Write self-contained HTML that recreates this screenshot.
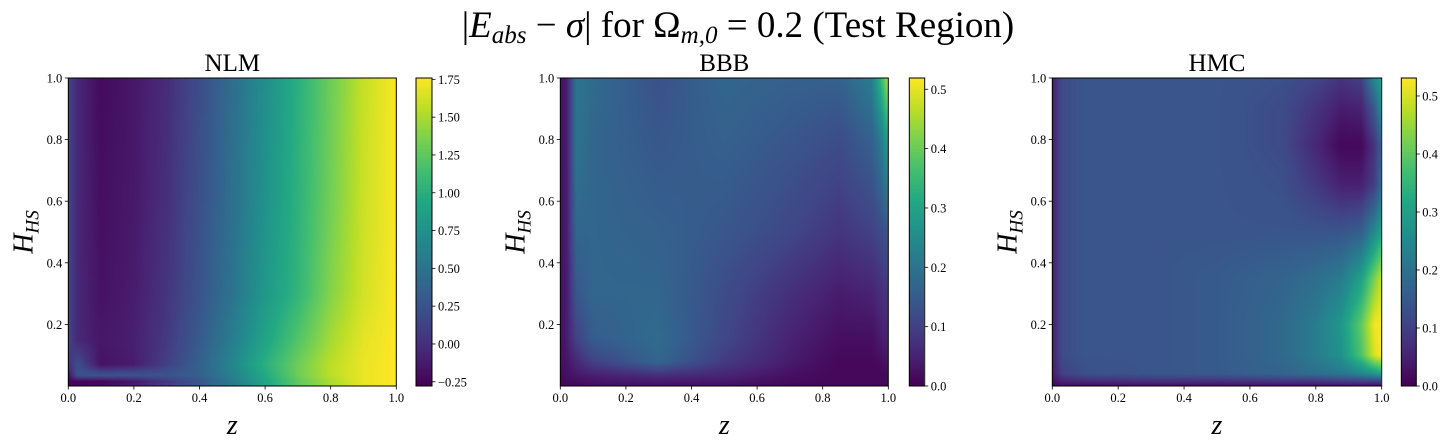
<!DOCTYPE html>
<html><head><meta charset="utf-8">
<style>
html,body{margin:0;padding:0;background:#fff;}
#wrap{position:relative;width:1453px;height:448px;overflow:hidden;font-family:"Liberation Serif",serif;}
canvas{position:absolute;}
svg{position:absolute;left:0;top:0;}
</style></head>
<body>
<div id="wrap">
<svg id="svg" width="1453" height="448"></svg>
</div>
<script>
// ---------- data ----------
const nlmZ = [0,0.03,0.1,0.2,0.3,0.4,0.5,0.6,0.7,0.8,0.9,1.0];
const nlmH = [1.0,0.6,0.3,0.15,0.07,0.035,0.015,0];
const nlmVals = [
 [0.15,-0.05,-0.22,-0.15,-0.02,0.2,0.45,0.72,1.0,1.3,1.58,1.75],
 [0.15,-0.05,-0.2,-0.14,0.0,0.22,0.47,0.75,1.02,1.32,1.6,1.75],
 [0.15,-0.05,-0.18,-0.12,0.03,0.25,0.5,0.8,1.05,1.38,1.62,1.76],
 [0.15,-0.05,-0.15,-0.1,0.06,0.3,0.58,0.9,1.2,1.48,1.68,1.76],
 [0.0,0.2,-0.18,-0.12,0.1,0.35,0.65,1.0,1.3,1.55,1.7,1.76],
 [-0.2,0.25,0.25,0.25,0.25,0.35,0.6,0.95,1.3,1.55,1.7,1.76],
 [-0.25,-0.25,-0.25,-0.15,0.05,0.25,0.55,0.9,1.25,1.5,1.7,1.76],
 [-0.25,-0.25,-0.2,-0.1,0.1,0.3,0.55,0.9,1.25,1.5,1.7,1.76]
];
const nlmTicks = ["−0.25","0.00","0.25","0.50","0.75","1.00","1.25","1.50","1.75"];
const nlmTickVals = [-0.25,0,0.25,0.5,0.75,1.0,1.25,1.5,1.75];

const bbbZ = [0,0.02,0.05,0.1,0.3,0.5,0.7,0.85,0.95,0.98,1.0];
const bbbH = [1.0,0.8,0.5,0.3,0.15,0.08,0.03,0];
const bbbVals = [
 [0.02,0.04,0.2,0.18,0.13,0.17,0.16,0.16,0.22,0.35,0.46],
 [0.02,0.04,0.2,0.17,0.14,0.16,0.14,0.12,0.16,0.22,0.3],
 [0.02,0.04,0.17,0.17,0.16,0.14,0.11,0.08,0.1,0.12,0.14],
 [0.02,0.04,0.14,0.17,0.17,0.12,0.07,0.04,0.05,0.07,0.08],
 [0.02,0.04,0.1,0.15,0.18,0.11,0.05,0.02,0.02,0.04,0.05],
 [0.02,0.03,0.06,0.1,0.17,0.09,0.04,0.01,0.01,0.02,0.03],
 [0.01,0.02,0.03,0.04,0.06,0.05,0.02,0.01,0.01,0.01,0.01],
 [0.01,0.01,0.01,0.02,0.02,0.02,0.01,0.01,0.01,0.01,0.01]
];
const bbbTicks = ["0.0","0.1","0.2","0.3","0.4","0.5"];
const bbbTickVals = [0,0.1,0.2,0.3,0.4,0.5];

const hmcZ = [0,0.03,0.1,0.3,0.5,0.7,0.8,0.88,0.94,0.98,1.0];
const hmcH = [1.0,0.9,0.78,0.65,0.5,0.35,0.2,0.1,0.04,0.015,0];
const hmcVals = [
 [0.04,0.12,0.14,0.14,0.14,0.13,0.11,0.08,0.1,0.25,0.3],
 [0.04,0.12,0.14,0.14,0.14,0.12,0.08,0.04,0.05,0.15,0.25],
 [0.04,0.12,0.14,0.14,0.14,0.12,0.06,0.01,0.01,0.08,0.15],
 [0.04,0.12,0.14,0.14,0.14,0.13,0.09,0.05,0.05,0.1,0.18],
 [0.04,0.12,0.14,0.14,0.14,0.14,0.14,0.14,0.16,0.25,0.3],
 [0.04,0.12,0.14,0.14,0.15,0.17,0.19,0.22,0.3,0.42,0.48],
 [0.04,0.12,0.14,0.14,0.15,0.18,0.22,0.28,0.4,0.52,0.53],
 [0.04,0.12,0.14,0.14,0.15,0.18,0.22,0.27,0.38,0.5,0.53],
 [0.03,0.1,0.13,0.14,0.15,0.17,0.19,0.21,0.24,0.28,0.3],
 [0.02,0.05,0.06,0.07,0.07,0.08,0.08,0.09,0.1,0.1,0.1],
 [0.01,0.02,0.02,0.02,0.02,0.02,0.02,0.02,0.02,0.02,0.02]
];
const hmcTicks = ["0.0","0.1","0.2","0.3","0.4","0.5"];
const hmcTickVals = [0,0.1,0.2,0.3,0.4,0.5];

const axisTicks = ["0.0","0.2","0.4","0.6","0.8","1.0"];
const axisTickVals = [0,0.2,0.4,0.6,0.8,1.0];
const yTicks = ["0.2","0.4","0.6","0.8","1.0"];
const yTickVals = [0.2,0.4,0.6,0.8,1.0];

// ---------- rendering ----------
const VIR = ["440154","482475","414487","355f8d","2a788e","21918c","22a884","44bf70","7ad151","bddf26","fde725"]
  .map(h=>[parseInt(h.slice(0,2),16),parseInt(h.slice(2,4),16),parseInt(h.slice(4,6),16)]);
function viridis(t){
  t=Math.max(0,Math.min(1,t))*10; const i=Math.min(9,Math.floor(t)), f=t-i;
  return VIR[i].map((c,k)=>c+(VIR[i+1][k]-c)*f);
}
function seg(arr,v,desc){
  for(let i=0;i<arr.length-1;i++){
    const a=arr[i],b=arr[i+1];
    if(desc? (v<=a&&v>=b):(v>=a&&v<=b)) return [i,(b===a)?0:(v-a)/(b-a)];
  }
  return [arr.length-2,1];
}
function sample(zs,hs,vals,z,h){
  const [i,fx]=seg(zs,z,false), [j,fy]=seg(hs,h,true);
  const a=vals[j][i],b=vals[j][i+1],c=vals[j+1][i],d=vals[j+1][i+1];
  return (a*(1-fx)+b*fx)*(1-fy)+(c*(1-fx)+d*fx)*fy;
}
const NS="http://www.w3.org/2000/svg";
const svg=document.getElementById('svg');
const wrap=document.getElementById('wrap');
function el(tag,attrs,parent){const e=document.createElementNS(NS,tag);for(const k in attrs)e.setAttribute(k,attrs[k]);(parent||svg).appendChild(e);return e;}

function panel(cfg){
  const {name,x0,x1,y0,y1,cb0,cb1,vmin,vmax,zs,hs,vals,cbTicks,cbTickVals}=cfg;
  const W=Math.round(x1-x0),H=Math.round(y1-y0);
  const xs=v=>x0+v*(x1-x0), ys=v=>y1-v*(y1-y0);
  const cv=document.createElement('canvas');
  cv.width=W;cv.height=H;cv.style.left=x0+'px';cv.style.top=y0+'px';
  
  
  wrap.insertBefore(cv,svg);
  const ctx=cv.getContext('2d');const img=ctx.createImageData(W,H);
  for(let py=0;py<H;py++){const h=1-(py+0.5)/H;
    for(let px=0;px<W;px++){const z=(px+0.5)/W;
      const v=sample(zs,hs,vals,z,h);const c=viridis((v-vmin)/(vmax-vmin));
      const o=(py*W+px)*4;img.data[o]=c[0];img.data[o+1]=c[1];img.data[o+2]=c[2];img.data[o+3]=255;}}
  ctx.putImageData(img,0,0);
  const CW=Math.round(cb1-cb0);
  const cc=document.createElement('canvas');
  cc.width=CW;cc.height=H;cc.style.left=cb0+'px';cc.style.top=y0+'px';
  
  
  wrap.insertBefore(cc,svg);
  const c2=cc.getContext('2d');
  for(let py=0;py<H;py++){const c=viridis(1-(py+0.5)/H);c2.fillStyle=`rgb(${c[0]|0},${c[1]|0},${c[2]|0})`;c2.fillRect(0,py,CW,1);}
  const g=el('g',{});
  
  
  el('rect',{x:x0,y:y0,width:x1-x0,height:y1-y0,fill:'none',stroke:'#000','stroke-width':1},g);
  el('rect',{x:cb0,y:y0,width:cb1-cb0,height:y1-y0,fill:'none',stroke:'#000','stroke-width':1},g);
  axisTickVals.forEach((v,i)=>{const x=xs(v);
    el('line',{x1:x,x2:x,y1:y1,y2:y1+3.5,stroke:'#000','stroke-width':0.8},g);
    const t=el('text',{x:x,y:y1+16,'text-anchor':'middle','font-size':12.5},g);t.textContent=axisTicks[i];
    
    });
  yTickVals.forEach((v,i)=>{const y=ys(v);
    el('line',{x1:x0,x2:x0-3.5,y1:y,y2:y,stroke:'#000','stroke-width':0.8},g);
    const t=el('text',{x:x0-6,y:y+4.5,'text-anchor':'end','font-size':12.5},g);t.textContent=yTicks[i];
    
    });
  cbTickVals.forEach((v,i)=>{const y=y1-(v-vmin)/(vmax-vmin)*(y1-y0);
    el('line',{x1:cb1,x2:cb1+3.5,y1:y,y2:y,stroke:'#000','stroke-width':0.8},g);
    const t=el('text',{x:cb1+6,y:y+4.5,'font-size':12.5},g);t.textContent=cbTicks[i];
    
    });
  const tt=el('text',{x:(x0+x1)/2,y:71,'text-anchor':'middle','font-size':25},g);tt.textContent=name;
  
  
  const xl=el('text',{x:(x0+x1)/2,y:434,'text-anchor':'middle','font-size':28,'font-style':'italic'},g);xl.textContent='z';
  
  
  const yl=el('text',{transform:`translate(${x0-36},${(y0+y1)/2}) rotate(-90)`,'text-anchor':'middle','font-size':28,'font-style':'italic'},g);
  yl.innerHTML='H<tspan font-size="19" dy="6">HS</tspan>';
  
  
}
panel({name:'NLM',x0:68.3,x1:396.3,y0:78,y1:386,cb0:416,cb1:432,vmin:-0.278,vmax:1.759,zs:nlmZ,hs:nlmH,vals:nlmVals,cbTicks:nlmTicks,cbTickVals:nlmTickVals});
panel({name:'BBB',x0:560.3,x1:888.3,y0:78,y1:386,cb0:909.3,cb1:924.7,vmin:0,vmax:0.519,zs:bbbZ,hs:bbbH,vals:bbbVals,cbTicks:bbbTicks,cbTickVals:bbbTickVals});
panel({name:'HMC',x0:1052.3,x1:1381.7,y0:78,y1:386,cb0:1401.3,cb1:1416.3,vmin:0,vmax:0.531,zs:hmcZ,hs:hmcH,vals:hmcVals,cbTicks:hmcTicks,cbTickVals:hmcTickVals});

const title=el('text',{x:738,y:37,'text-anchor':'middle','font-size':37});
title.innerHTML='|<tspan font-style="italic">E</tspan><tspan font-style="italic" font-size="25" dy="6">abs</tspan><tspan dy="-6"> − </tspan><tspan font-style="italic">σ</tspan>| for Ω<tspan font-style="italic" font-size="25" dy="6">m,0</tspan><tspan dy="-6"> = 0.2 (Test Region)</tspan>';


</script>
</body></html>
